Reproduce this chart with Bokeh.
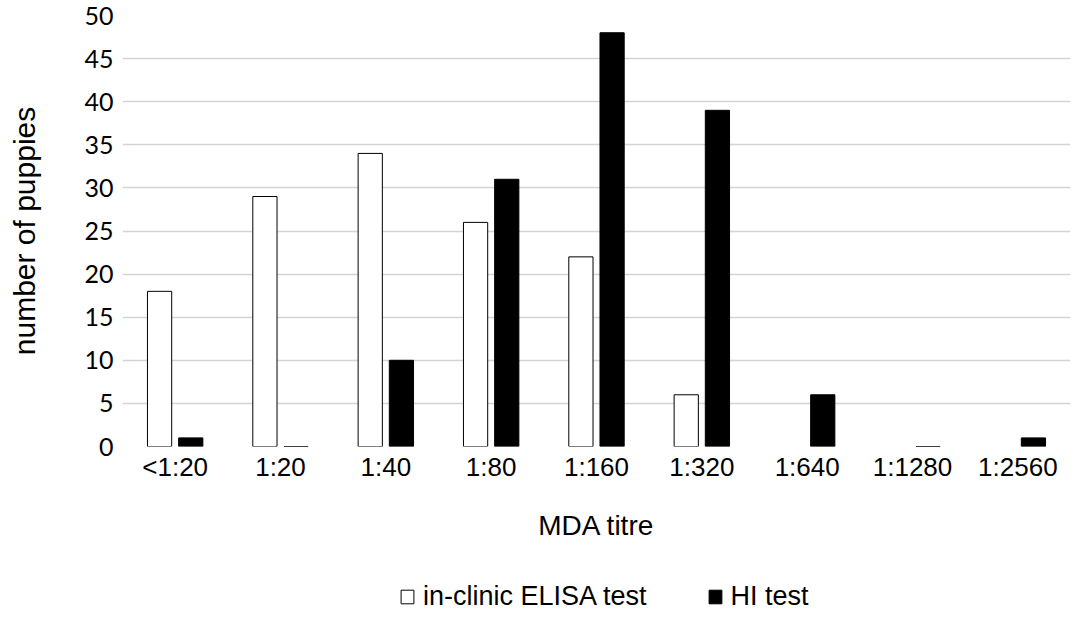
from bokeh.plotting import figure
from bokeh.models import ColumnDataSource, Legend, LegendItem, SingleIntervalTicker
from bokeh.layouts import column
from bokeh.transform import dodge
from bokeh.embed import file_html
from bokeh.resources import INLINE

categories = ["<1:20", "1:20", "1:40", "1:80", "1:160", "1:320", "1:640", "1:1280", "1:2560"]
elisa = [18, 29, 34, 26, 22, 6, 0, 0, 0]
hi = [1, 0, 10, 31, 48, 39, 6, 0, 1]
series_names = ["in-clinic ELISA test", "HI test"]

# ELISA zero-count bars are not drawn in the original; HI zero bars show as a flat line
elisa_src = ColumnDataSource(dict(cat=[c for c, v in zip(categories, elisa) if v > 0],
                                  val=[v for v in elisa if v > 0]))
hi_src = ColumnDataSource(dict(cat=categories, val=hi))

elisa_style = dict(fill_color="white", line_color="black", line_width=1)
hi_style = dict(fill_color="black", line_color="black", line_width=1)

p = figure(x_range=categories, y_range=(0, 50), width=1076, height=556,
           output_backend="svg", toolbar_location=None,
           min_border_left=122, min_border_right=6, min_border_top=15, min_border_bottom=110)
p.outline_line_color = None
p.background_fill_color = "white"

p.vbar(x=dodge("cat", -0.148, range=p.x_range), top="val", width=0.23, source=elisa_src, **elisa_style)
p.vbar(x=dodge("cat", 0.148, range=p.x_range), top="val", width=0.23, source=hi_src, **hi_style)

p.xgrid.grid_line_color = None
p.ygrid.grid_line_color = "#d4d4d4"
p.ygrid.grid_line_width = 1.5
p.yaxis.ticker = SingleIntervalTicker(interval=5)

for ax in (p.xaxis, p.yaxis):
    ax.axis_line_color = None
    ax.major_tick_line_color = None
    ax.minor_tick_line_color = None
    ax.major_tick_out = 0
    ax.major_tick_in = 0
    ax.minor_tick_out = 0
    ax.minor_tick_in = 0
    ax.major_label_text_color = "black"
    ax.axis_label_text_color = "black"
    ax.axis_label_text_font = "Liberation Sans"
    ax.axis_label_text_font_style = "normal"

p.yaxis.major_label_text_font = "Lato"
p.yaxis.major_label_text_font_size = "25px"
p.yaxis.major_label_standoff = 9
p.yaxis.axis_label = "number of puppies"
p.yaxis.axis_label_text_font_size = "30px"
p.yaxis.axis_label_standoff = 40

p.xaxis.major_label_text_font = "Liberation Sans"
p.xaxis.major_label_text_font_size = "26px"
p.xaxis.major_label_standoff = 5
p.xaxis.axis_label = "MDA titre"
p.xaxis.axis_label_text_font_size = "28px"
p.xaxis.axis_label_standoff = 25

# legend strip below the chart (frames are aligned with the chart above)
pl = figure(width=1076, height=56, output_backend="svg", toolbar_location=None,
            min_border_left=122, min_border_right=6, min_border_top=0, min_border_bottom=0,
            x_range=(0, 1), y_range=(0, 1))
pl.outline_line_color = None
pl.axis.visible = False
pl.grid.grid_line_color = None
offscreen = ColumnDataSource(dict(x=[-5], top=[-5]))
l1 = pl.vbar(x="x", top="top", width=0.1, source=offscreen, **elisa_style)
l2 = pl.vbar(x="x", top="top", width=0.1, source=offscreen, **hi_style)

legend = Legend(items=[LegendItem(label=series_names[0], renderers=[l1]),
                       LegendItem(label=series_names[1], renderers=[l2])],
                orientation="horizontal", location=(277, 0),
                glyph_width=16, glyph_height=17, label_standoff=8, spacing=60,
                padding=0, margin=0, border_line_color=None, background_fill_alpha=0,
                label_text_font="Liberation Sans", label_text_font_size="27px",
                label_text_color="black")
pl.add_layout(legend, "center")

open("out.html", "w").write(file_html(column(p, pl, spacing=0), INLINE))
